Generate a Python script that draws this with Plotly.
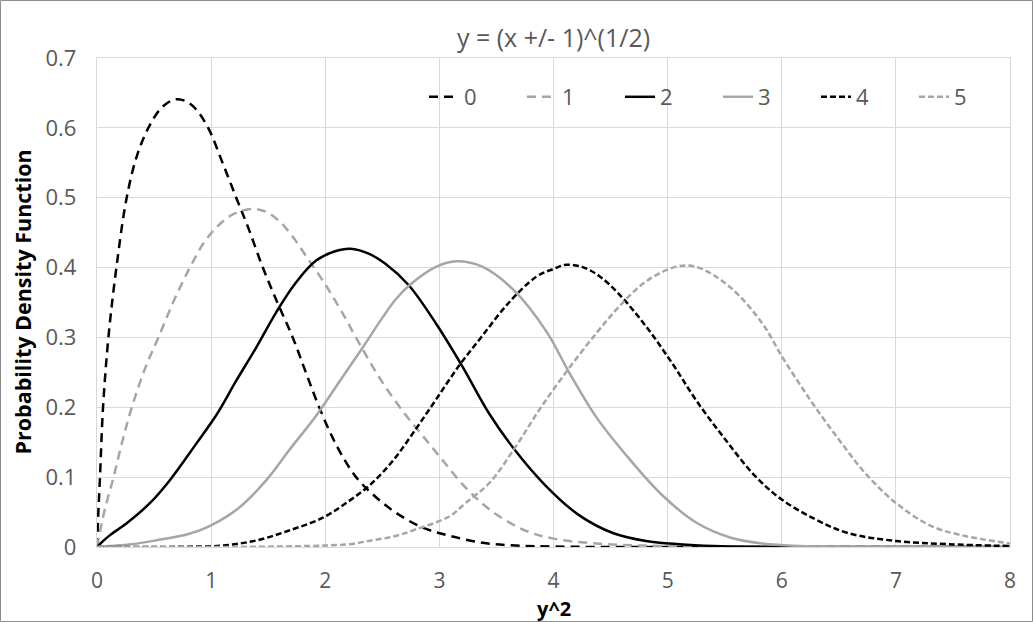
import plotly.graph_objects as go

# ---- data ----
series_names = ["0", "1", "2", "3", "4", "5"]

x0 = [0, 0.012, 0.026, 0.053, 0.1, 0.17, 0.26, 0.35, 0.45, 0.55, 0.63, 0.70, 0.78, 0.86, 0.974, 1.1, 1.22, 1.33,
      1.453, 1.58, 1.715, 1.83, 1.947, 2.1, 2.27, 2.44, 2.62, 2.85, 3.09, 3.38, 3.67, 4.0, 4.5, 5, 6, 7, 8]
y0 = [0, 0.05, 0.1, 0.2, 0.3, 0.4, 0.5, 0.56, 0.6, 0.626, 0.637, 0.641, 0.638, 0.628, 0.6, 0.55, 0.5, 0.455,
      0.4, 0.35, 0.3, 0.25, 0.2, 0.145, 0.1, 0.072, 0.049, 0.028, 0.016, 0.006, 0.002, 0.0006, 0, 0, 0, 0, 0]

x1 = [0, 0.03, 0.07, 0.145, 0.22, 0.305, 0.42, 0.538, 0.68, 0.814, 0.93, 1.05, 1.19, 1.35, 1.48, 1.6, 1.72,
      1.85, 2.0, 2.15, 2.31, 2.5, 2.7, 2.85, 3.0, 3.23, 3.47, 3.76, 4.0, 4.37, 4.8, 5.5, 6, 7, 8]
y1 = [0, 0.025, 0.055, 0.1, 0.15, 0.2, 0.255, 0.3, 0.355, 0.4, 0.434, 0.458, 0.476, 0.484, 0.48, 0.466, 0.443,
      0.412, 0.376, 0.335, 0.288, 0.236, 0.19, 0.16, 0.13, 0.085, 0.05, 0.023, 0.012, 0.005, 0.002, 0.0005, 0, 0, 0]

x2 = [0, 0.05, 0.114, 0.26, 0.465, 0.64, 0.87, 1.05, 1.22, 1.4, 1.57, 1.74, 1.92, 2.08, 2.22, 2.38, 2.53, 2.73,
      2.97, 3.2, 3.44, 3.67, 3.93, 4.22, 4.52, 4.81, 5.1, 5.4, 5.8, 6.5, 7, 8]
y2 = [0, 0.008, 0.017, 0.034, 0.063, 0.096, 0.148, 0.19, 0.238, 0.287, 0.336, 0.378, 0.41, 0.423, 0.427, 0.42,
      0.405, 0.375, 0.32, 0.259, 0.19, 0.137, 0.088, 0.046, 0.02, 0.0086, 0.004, 0.0015, 0.0004, 0, 0, 0]

x3 = [0, 0.3, 0.52, 0.81, 1.0, 1.25, 1.48, 1.69, 1.92, 2.15, 2.33, 2.5, 2.62, 2.74, 2.97, 3.15, 3.38, 3.65, 3.94,
      4.14, 4.37, 4.67, 4.96, 5.25, 5.54, 5.83, 6.2, 6.6, 7, 8]
y3 = [0, 0.004, 0.0095, 0.019, 0.031, 0.057, 0.095, 0.14, 0.188, 0.243, 0.286, 0.328, 0.355, 0.375, 0.401, 0.409,
      0.401, 0.368, 0.308, 0.249, 0.187, 0.125, 0.073, 0.035, 0.014, 0.005, 0.0012, 0, 0, 0]

x4 = [0, 0.5, 0.8, 1.1, 1.4, 1.69, 1.98, 2.21, 2.4, 2.6, 2.79, 2.97, 3.17, 3.37, 3.61, 3.85, 4.0, 4.11, 4.25,
      4.4, 4.58, 4.81, 5.04, 5.25, 5.5, 5.77, 6.0, 6.29, 6.58, 7.0, 7.46, 8]
y4 = [0, 0, 0.0005, 0.002, 0.0095, 0.024, 0.042, 0.066, 0.09, 0.125, 0.168, 0.211, 0.259, 0.301, 0.35, 0.387,
      0.398, 0.404, 0.401, 0.388, 0.361, 0.316, 0.263, 0.21, 0.155, 0.101, 0.068, 0.04, 0.02, 0.0086, 0.004, 0.0014]

x5 = [0, 1.0, 1.5, 1.98, 2.21, 2.41, 2.6, 2.79, 3.09, 3.23, 3.44, 3.67, 3.87, 4.1, 4.37, 4.58, 4.81, 5.07,
      5.25, 5.54, 5.83, 6.0, 6.15, 6.29, 6.5, 6.73, 7.0, 7.31, 7.6, 8]
y5 = [0, 0, 0.0005, 0.002, 0.004, 0.0095, 0.015, 0.025, 0.044, 0.063, 0.092, 0.144, 0.195, 0.248, 0.305, 0.345,
      0.38, 0.401, 0.401, 0.373, 0.32, 0.273, 0.235, 0.201, 0.154, 0.106, 0.063, 0.030, 0.016, 0.005]

x_ticks = [0, 1, 2, 3, 4, 5, 6, 7, 8]
y_ticks = [0, 0.1, 0.2, 0.3, 0.4, 0.5, 0.6, 0.7]

# ---- styles ----
BLACK = "#000000"
GRAY = "#a6a6a6"
TEXT = "#595959"
FONT = "Open Sans"
styles = [
    (BLACK, "9px,6px"),
    (GRAY, "9px,6px"),
    (BLACK, "solid"),
    (GRAY, "solid"),
    (BLACK, "6px,3px"),
    (GRAY, "6px,3px"),
]

xs = [x0, x1, x2, x3, x4, x5]
ys = [y0, y1, y2, y3, y4, y5]

fig = go.Figure()
for name, xv, yv, (col, dash) in zip(series_names, xs, ys, styles):
    fig.add_trace(go.Scatter(
        x=xv, y=yv, name=name, mode="lines",
        line=dict(color=col, width=2.5, dash=dash, shape="spline", smoothing=1.0),
    ))

W, H = 1033, 622
L, R, T, B = 97, 23, 58, 75
pw, ph = W - L - R, H - T - B

fig.update_layout(
    width=W, height=H,
    margin=dict(l=L, r=R, t=T, b=B, autoexpand=False),
    paper_bgcolor="white", plot_bgcolor="white",
    font=dict(family=FONT, color=TEXT, size=22),
    title=dict(text="y = (x +/- 1)^(1/2)", x=0.5, xanchor="center", xref="paper",
               y=1 - 38 / H, yanchor="middle", font=dict(size=25, color=TEXT, family=FONT)),
    showlegend=True,
    legend=dict(orientation="h", x=(424 - L) / pw, xanchor="left", y=(547 - 97) / ph, yanchor="middle",
                bgcolor="rgba(0,0,0,0)", font=dict(size=22, color=TEXT, family=FONT),
                entrywidth=53, entrywidthmode="pixels", traceorder="normal"),
    xaxis=dict(range=[0, 8], tickvals=x_ticks, showgrid=True, gridcolor="#d9d9d9", gridwidth=1.3,
               zeroline=False, showline=True, mirror=True, linecolor="#d9d9d9", linewidth=1.3,
               ticks="", ticklabelstandoff=15, tickfont=dict(size=21, color=TEXT, family=FONT)),
    yaxis=dict(range=[0, 0.7], tickvals=y_ticks, showgrid=True, gridcolor="#d9d9d9", gridwidth=1.3,
               zeroline=False, showline=True, mirror=True, linecolor="#d9d9d9", linewidth=1.3,
               ticks="", ticklabelstandoff=15, tickfont=dict(size=22, color=TEXT, family=FONT)),
    annotations=[
        dict(text="<b>Probability Density Function</b>", xref="paper", yref="paper",
             x=(22 - L) / pw, y=0.5, textangle=-90, showarrow=False,
             font=dict(size=21.5, color="#000000", family=FONT), xanchor="center", yanchor="middle"),
        dict(text="<b>y^2</b>", xref="paper", yref="paper", x=0.5, y=(547 - 608) / ph,
             showarrow=False, font=dict(size=20, color="#000000", family=FONT),
             xanchor="center", yanchor="middle"),
    ],
    shapes=[dict(type="rect", xref="paper", yref="paper",
                 x0=(0.5 - L) / pw, x1=(1032.5 - L) / pw,
                 y0=(547 - 621.5) / ph, y1=(547 - 0.5) / ph,
                 line=dict(color="#8c8c8c", width=1), layer="below")],
)

fig.write_html("out.html", config={"displayModeBar": False},
               post_script="document.body.style.margin='0';document.body.style.overflow='hidden';")
